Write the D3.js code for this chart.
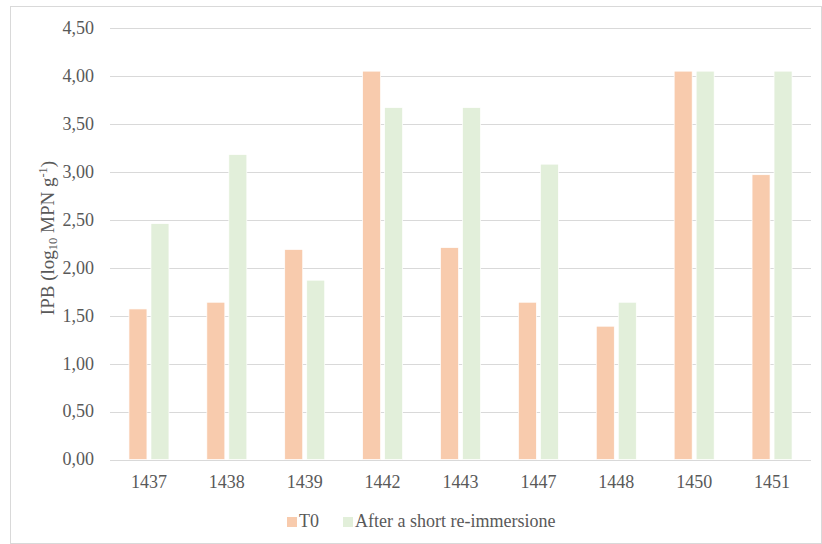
<!DOCTYPE html>
<html><head><meta charset="utf-8">
<script src="https://cdn.jsdelivr.net/npm/d3@7"></script>
<style>body{margin:0;background:#fff}svg{display:block}svg text{font-family:'Liberation Serif','Times New Roman',serif}</style>
</head><body>
<script>
const categories = ["1437","1438","1439","1442","1443","1447","1448","1450","1451"];
const seriesNames = ["T0","After a short re-immersione"];
const t0Values = [1.57,1.64,2.19,4.05,2.21,1.64,1.39,4.05,2.97];
const afterValues = [2.46,3.18,1.87,3.67,3.67,3.08,1.64,4.05,4.05];
const yTicks = [0,0.5,1,1.5,2,2.5,3,3.5,4,4.5];
const colors = ["#F8CBAD","#E2EFDA"];

const W=822,H=544;
const svg=d3.select("body").append("svg").attr("width",W).attr("height",H);
svg.append("rect").attr("x",10.5).attr("y",6.5).attr("width",W-11).attr("height",H-7)
  .attr("fill","#fff").attr("stroke","#d9d9d9");

const x0=110,x1=811,yTop=28,yBot=459.5;
const x=d3.scaleBand().domain(categories).range([x0,x1]);
const y=d3.scaleLinear().domain([0,4.5]).range([yBot,yTop]);
const fs=18;

// gridlines
svg.append("g").selectAll("line").data(yTicks).join("line")
  .attr("x1",x0).attr("x2",x1).attr("y1",d=>Math.round(y(d))+0.5).attr("y2",d=>Math.round(y(d))+0.5)
  .attr("stroke","#d9d9d9").attr("stroke-width",1);

// y labels
svg.append("g").selectAll("text").data(yTicks).join("text")
  .attr("x",94).attr("y",d=>y(d)).attr("dy","0.33em").attr("text-anchor","end")
  .attr("font-size",fs).attr("fill","#595959")
  .text(d=>d3.format(".2f")(d).replace(".",","));

const bw=18, gap=4;
const series=[t0Values,afterValues];
series.forEach((vals,i)=>{
  svg.append("g").selectAll("rect").data(categories).join("rect")
    .attr("x",(c)=>x(c)+x.bandwidth()/2 - bw - gap/2 + i*(bw+gap))
    .attr("y",(c,j)=>y(vals[j]))
    .attr("width",bw)
    .attr("height",(c,j)=>yBot-y(vals[j]))
    .attr("fill",colors[i]).attr("stroke","#fff").attr("stroke-width",0.7);
});

// x labels
svg.append("g").selectAll("text").data(categories).join("text")
  .attr("x",c=>x(c)+x.bandwidth()/2).attr("y",488).attr("text-anchor","middle")
  .attr("font-size",fs).attr("fill","#595959")
  .text(c=>c);

// y title
const yt=svg.append("text").attr("transform","translate(54,238) rotate(-90)")
  .attr("text-anchor","middle").attr("font-size",19).attr("fill","#595959");
yt.append("tspan").text("IPB (log");
yt.append("tspan").attr("font-size",12.5).attr("dy",3).text("10");
yt.append("tspan").attr("dy",-3).text(" MPN g");
yt.append("tspan").attr("font-size",12.5).attr("dy",-7).text("-1");
yt.append("tspan").attr("dy",7).text(")");

// legend
const leg=[{x:287,name:seriesNames[0],c:colors[0]},{x:343,name:seriesNames[1],c:colors[1]}];
leg.forEach(l=>{
  svg.append("rect").attr("x",l.x).attr("y",517).attr("width",10).attr("height",10).attr("fill",l.c);
  svg.append("text").attr("x",l.x+12).attr("y",527).attr("font-size",fs)
    .attr("fill","#595959").text(l.name);
});
</script>
</body></html>
